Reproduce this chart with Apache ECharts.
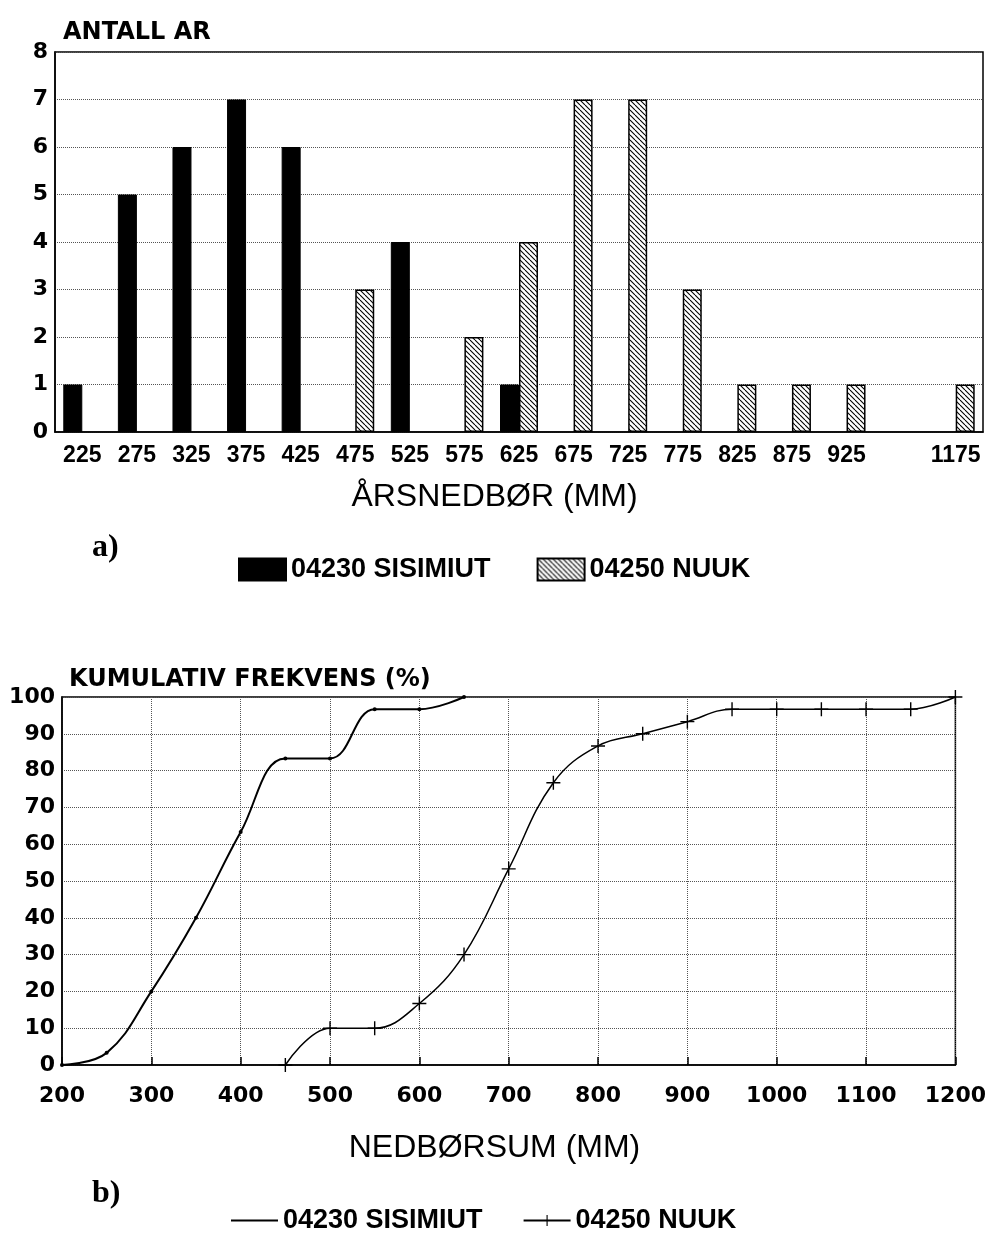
<!DOCTYPE html>
<html><head><meta charset="utf-8">
<script src="https://cdn.jsdelivr.net/npm/echarts@6/dist/echarts.min.js"></script>
<style>
html,body{margin:0;padding:0;background:#fff;}
#a{position:absolute;left:0;top:0;width:989px;height:620px;}
#b{position:absolute;left:0;top:620px;width:989px;height:614px;}
</style>
</head><body><div id="a"></div><div id="b"></div>
<script>
// ---- data: a) histogram ----
const binLabels = ['225','275','325','375','425','475','525','575','625','675','725','775','825','875','925','','1175'];
const sisimiutCount = [1,5,6,7,6,null,4,null,1,null,null,null,null,null,null,null,null];
const nuukCount     = [null,null,null,null,null,3,null,2,4,7,7,3,1,1,1,null,1];

// ---- data: b) cumulative frequency ----
const sisimiutCumX   = [200,250,300,350,400,450,500,550,600,650];
const sisimiutCumPct = [0,3.3,20,40,63.3,83.3,83.3,96.7,96.7,100];
const nuukCumX   = [450,500,550,600,650,700,750,800,850,900,950,1000,1050,1100,1150,1200];
const nuukCumPct = [0,10,10,16.7,30,53.3,76.7,86.7,90,93.3,96.7,96.7,96.7,96.7,96.7,100];

const nameS = '04230 SISIMIUT';
const nameN = '04250 NUUK';

function hatch(){
  const c = document.createElement('canvas');
  c.width = 5; c.height = 5;
  const g = c.getContext('2d');
  g.fillStyle = '#fff'; g.fillRect(0,0,5,5);
  g.strokeStyle = '#000'; g.lineWidth = 1.1;
  for (const k of [-5,0,5]) { g.beginPath(); g.moveTo(k,0); g.lineTo(k+5,5); g.stroke(); }
  return c;
}
const hatchFill = {image: hatch(), repeat: 'repeat'};

const tickFontBold = {color:'#000', fontWeight:'bold', fontFamily:'DejaVu Sans', fontSize:22};
const dotted = {lineStyle:{type:'dotted', color:'#555', width:1}};

// ---- chart a ----
const ca = echarts.init(document.getElementById('a'), null, {renderer:'canvas'});
ca.setOption({
  animation:false,
  title:{text:'ANTALL AR', left:58, top:16, textStyle:{fontFamily:'DejaVu Sans', fontWeight:'bold', fontSize:24, color:'#000'}},
  grid:{left:55, right:6, top:52, height:380, show:true, borderColor:'#000', borderWidth:1.5},
  xAxis:{type:'category', data:binLabels,
    axisLine:{lineStyle:{color:'#000', width:1.5}}, axisTick:{show:false},
    axisLabel:{color:'#000', fontWeight:'bold', fontSize:23, fontFamily:'Liberation Sans', margin:12, interval:0},
    splitLine:{show:false}},
  yAxis:{type:'value', min:0, max:8, interval:1,
    axisLine:{show:true, lineStyle:{color:'#000', width:1.5}}, axisTick:{show:false},
    axisLabel:Object.assign({margin:7}, tickFontBold), splitLine:dotted},
  legend:{left:233, top:551, itemWidth:47, itemHeight:22, itemGap:46, icon:'rect',
    textStyle:{fontSize:27, fontWeight:'bold', color:'#000', fontFamily:'Liberation Sans'},
    data:[nameS, nameN]},
  graphic:[
    {type:'text', left:'center', top:481, style:{text:'ÅRSNEDBØR (MM)', font:'32px "Liberation Sans"', fill:'#000'}},
    {type:'text', left:92, top:532, style:{text:'a)', font:'bold 32px "Liberation Serif"', fill:'#000'}}
  ],
  series:[
    {name:nameS, type:'bar', data:sisimiutCount, barWidth:19, barGap:'0%',
      itemStyle:{color:'#000', borderColor:'#000', borderWidth:1}},
    {name:nameN, type:'bar', data:nuukCount, barWidth:19, barGap:'0%',
      itemStyle:{color:hatchFill, borderColor:'#000', borderWidth:1.5}}
  ]
});

// ---- chart b ----
const cross = 'path://M-1,-10 L1,-10 L1,-1 L10,-1 L10,1 L1,1 L1,10 L-1,10 L-1,1 L-10,1 L-10,-1 L-1,-1 Z';
const cb = echarts.init(document.getElementById('b'), null, {renderer:'canvas'});
cb.setOption({
  animation:false,
  title:{text:'KUMULATIV FREKVENS (%)', left:64, top:43, textStyle:{fontFamily:'DejaVu Sans', fontWeight:'bold', fontSize:24, color:'#000'}},
  grid:{left:62, right:31, top:77, height:368, show:true, borderColor:'#000', borderWidth:1.5},
  xAxis:{type:'value', min:200, max:1200, interval:100,
    axisLine:{lineStyle:{color:'#000', width:1.5}},
    axisTick:{inside:true, length:8, lineStyle:{color:'#000', width:1.5}},
    axisLabel:Object.assign({margin:20, formatter:v=>String(v)}, tickFontBold), splitLine:dotted},
  yAxis:{type:'value', min:0, max:100, interval:10,
    axisLine:{show:true, lineStyle:{color:'#000', width:1.5}}, axisTick:{show:false},
    axisLabel:Object.assign({margin:7}, tickFontBold), splitLine:dotted},
  legend:{left:225, top:582, itemWidth:47, itemHeight:14, itemGap:40,
    textStyle:{fontSize:27, fontWeight:'bold', color:'#000', fontFamily:'Liberation Sans'},
    data:[{name:nameS, itemStyle:{opacity:0}}, nameN]},
  graphic:[
    {type:'text', left:'center', top:512, style:{text:'NEDBØRSUM (MM)', font:'32px "Liberation Sans"', fill:'#000'}},
    {type:'text', left:92, top:558, style:{text:'b)', font:'bold 32px "Liberation Serif"', fill:'#000'}}
  ],
  series:[
    {name:nameS, type:'line', smooth:0.4,
      data:sisimiutCumX.map((x,i)=>[x, sisimiutCumPct[i]]),
      symbol:'circle', symbolSize:4,
      lineStyle:{color:'#000', width:2}, itemStyle:{color:'#000'}},
    {name:nameN, type:'line', smooth:0.4,
      data:nuukCumX.map((x,i)=>[x, nuukCumPct[i]]),
      symbol:cross, symbolSize:14,
      lineStyle:{color:'#000', width:1.5}, itemStyle:{color:'#000'}}
  ]
});
</script>
</body></html>
